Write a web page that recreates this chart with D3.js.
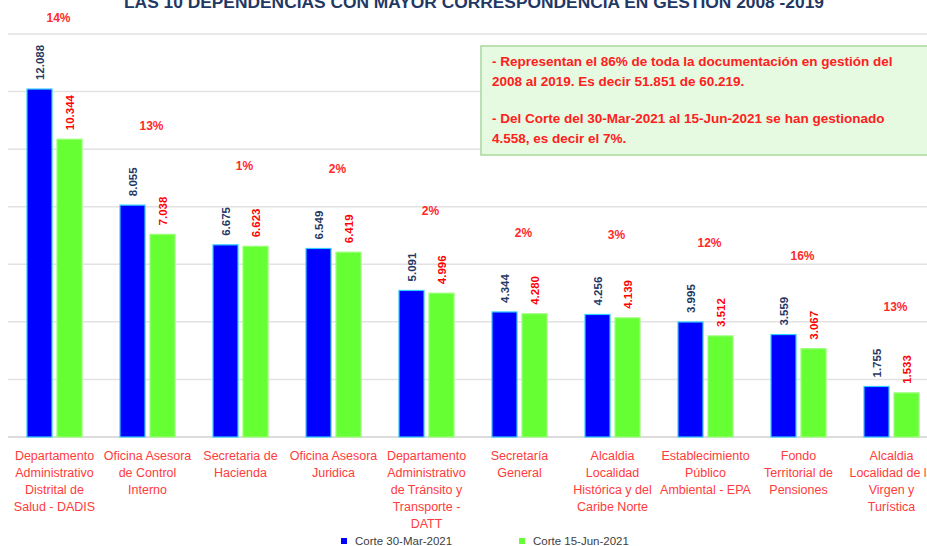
<!DOCTYPE html>
<html><head><meta charset="utf-8">
<script src="https://cdn.jsdelivr.net/npm/d3@7"></script>
<style>body{margin:0;background:#fff;}svg{display:block;font-family:"Liberation Sans",Arial,sans-serif;}</style>
</head><body>
<svg id="c" width="927" height="546"></svg>
<script>
const categories = [
  ["Departamento","Administrativo","Distrital de","Salud - DADIS"],
  ["Oficina Asesora","de Control","Interno"],
  ["Secretaria de","Hacienda"],
  ["Oficina Asesora","Juridica"],
  ["Departamento","Administrativo","de Tránsito y","Transporte -","DATT"],
  ["Secretaría","General"],
  ["Alcaldia","Localidad","Histórica y del","Caribe Norte"],
  ["Establecimiento","Público","Ambiental - EPA"],
  ["Fondo","Territorial de","Pensiones"],
  ["Alcaldia","Localidad de la","Virgen y","Turística"]
];
const seriesNames = ["Corte 30-Mar-2021","Corte 15-Jun-2021"];
const marValues = [12088, 8055, 6675, 6549, 5091, 4344, 4256, 3995, 3559, 1755];
const junValues = [10344, 7038, 6623, 6419, 4996, 4280, 4139, 3512, 3067, 1533];
const pctLabels = ["14%","13%","1%","2%","2%","2%","3%","12%","16%","13%"];
const yTicks = [0,2000,4000,6000,8000,10000,12000,14000];
const titleText = "LAS 10 DEPENDENCIAS  CON MAYOR CORRESPONDENCIA  EN GESTION 2008 -2019";
const noteLines = [
  ["- Representan el 86% de toda la documentación en  gestión del","2008 al 2019.  Es decir 51.851  de 60.219."],
  ["- Del Corte del 30-Mar-2021 al 15-Jun-2021 se han gestionado","4.558, es decir el 7%."]
];

const svg = d3.select("#c");
const fmt = v => d3.format(",")(v).replace(/,/g,".");
const x = d3.scaleBand().domain(d3.range(categories.length)).range([8, 938]).paddingInner(0).paddingOuter(0);
const y = d3.scaleLinear().domain([0,14000]).range([437, 34]);
const colors = ["#0000ff","#66ff33"];
const strokes = ["#33ccff","#99ff77"];
const barW = 25, gap = 5;

// gridlines
svg.append("g").selectAll("line").data(yTicks).join("line")
  .attr("x1",8).attr("x2",927).attr("y1",d=>y(d)).attr("y2",d=>y(d))
  .attr("stroke",(d)=>d===0?"#d0d0d0":"#e2e2e2").attr("stroke-width",1.5);

// title (clipped at top, as in the reference)
svg.append("text").attr("x",474).attr("y",8).attr("text-anchor","middle")
  .attr("font-size",16).attr("font-weight","bold").attr("fill","#1f3864")
  .attr("textLength",700).attr("lengthAdjust","spacingAndGlyphs").text(titleText);

const series = [marValues, junValues];
series.forEach((vals,si)=>{
  const g = svg.append("g");
  g.selectAll("rect").data(vals).join("rect")
    .attr("x",(d,i)=>x(i)+x.bandwidth()/2 - barW - gap/2 + si*(barW+gap))
    .attr("y",d=>y(d)).attr("width",barW).attr("height",d=>y(0)-y(d))
    .attr("fill",colors[si]).attr("stroke",strokes[si]).attr("stroke-width",1.2);
  g.selectAll("text").data(vals).join("text")
    .attr("transform",(d,i)=>{
      const cx = x(i)+x.bandwidth()/2 - barW/2 - gap/2 + si*(barW+gap) + 4.5;
      return `translate(${cx},${y(d)-9}) rotate(-90)`;
    })
    .attr("font-size",11.5).attr("font-weight","bold")
    .attr("fill",si===0?"#1f3864":"#ff0000").text(d=>fmt(d));
});

// percent labels
svg.append("g").selectAll("text").data(pctLabels).join("text")
  .attr("x",(d,i)=>x(i)+x.bandwidth()/2+4).attr("y",(d,i)=>Math.max(y(marValues[i])-75, 22))
  .attr("text-anchor","middle").attr("font-size",12).attr("font-weight","bold")
  .attr("fill","#ff2a2a").text(d=>d);

// category labels
const cg = svg.append("g");
categories.forEach((lines,i)=>{
  const t = cg.append("text").attr("text-anchor","middle").attr("font-size",12.5).attr("fill","#ff3b3b");
  lines.forEach((l,j)=>t.append("tspan").attr("x",x(i)+x.bandwidth()/2).attr("y",460+j*17).text(l));
});

// annotation box
const nb = svg.append("g");
nb.append("rect").attr("x",481).attr("y",46).attr("width",450).attr("height",109)
  .attr("fill","#e5fae0").attr("stroke","#a9d89a").attr("stroke-width",1.5);
noteLines.forEach((para,pi)=>{
  para.forEach((l,li)=>{
    nb.append("text").attr("x",492).attr("y",66+pi*57+li*20)
      .attr("font-size",13.5).attr("font-weight","bold").attr("fill","#ff2020").text(l);
  });
});

// legend
const lg = svg.append("g");
[344, 522].forEach((lx,i)=>{
  lg.append("rect").attr("x",lx-3).attr("y",538).attr("width",6).attr("height",6).attr("fill",colors[i]);
  lg.append("text").attr("x",lx+11).attr("y",545).attr("font-size",11.5).attr("fill","#404040").text(seriesNames[i]);
});
</script>
</body></html>
